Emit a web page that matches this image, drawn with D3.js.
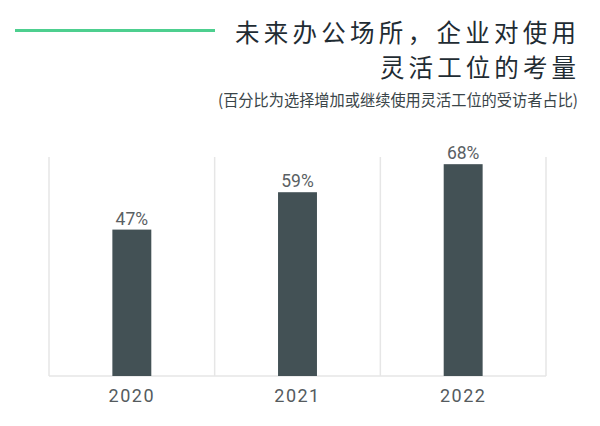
<!DOCTYPE html>
<html><head><meta charset="utf-8">
<script src="https://cdn.jsdelivr.net/npm/d3@7"></script>
<style>
html,body{margin:0;padding:0;background:#fff;}
svg{display:block;}
</style></head>
<body>
<svg id="chart" width="600" height="426"></svg>
<script>
const titleLines = ["未来办公场所，企业对使用", "灵活工位的考量"];
const subtitle = "(百分比为选择增加或继续使用灵活工位的受访者占比)";
const years = ["2020", "2021", "2022"];
const values = [47, 59, 68];
const valueLabels = ["47%", "59%", "68%"];

const svg = d3.select("#chart");
const W = 600, H = 426;
const margin = {left: 49, right: 54, top: 157, bottom: 50};
const x0 = margin.left, x1 = W - margin.right;
const yBase = H - margin.bottom;

// header
svg.append("line").attr("x1", 15).attr("x2", 215).attr("y1", 30.5).attr("y2", 30.5)
  .attr("stroke", "#4dcf8f").attr("stroke-width", 3);

const cjk = "'Noto Sans CJK SC','Noto Sans',sans-serif";
const titleY = [41.5, 77], titleLen = [341, 196];
titleLines.forEach((t, i) => {
  svg.append("text").attr("text-anchor", "end")
    .attr("font-family", cjk).attr("font-size", 24.5).attr("fill", "#1f2c33")
    .attr("font-weight", 400)
    .attr("x", 576).attr("y", titleY[i])
    .attr("textLength", titleLen[i]).attr("lengthAdjust", "spacing")
    .text(t);
});
svg.append("text").attr("x", 578).attr("y", 106).attr("text-anchor", "end")
  .attr("font-family", cjk).attr("font-size", 16).attr("fill", "#3a4549")
  .attr("textLength", 360).attr("lengthAdjust", "spacingAndGlyphs")
  .text(subtitle);

// scales
const x = d3.scaleBand().domain(years).range([x0, x1]).paddingInner(0.765).paddingOuter(0.3825);
const xGrid = d3.scaleBand().domain(years).range([x0, x1]).padding(0);
const y = d3.scaleLinear().domain([0, 100]).range([yBase, yBase - 311.5]);

// grid
const grid = svg.append("g").attr("stroke", "#e6e6e6").attr("stroke-width", 1.5);
const bounds = years.map(d => xGrid(d)).concat([x1]);
grid.selectAll("line.v").data(bounds).join("line")
  .attr("x1", d => d).attr("x2", d => d)
  .attr("y1", margin.top).attr("y2", yBase);
grid.append("line").attr("x1", x0).attr("x2", x1).attr("y1", yBase).attr("y2", yBase);

// bars
svg.append("g").selectAll("rect").data(values).join("rect")
  .attr("x", (d, i) => x(years[i]))
  .attr("width", x.bandwidth())
  .attr("y", d => y(d))
  .attr("height", d => y(0) - y(d))
  .attr("fill", "#435155");

// value labels
svg.append("g").selectAll("text").data(values).join("text")
  .attr("x", (d, i) => x(years[i]) + x.bandwidth() / 2)
  .attr("y", d => y(d) - 5)
  .attr("text-anchor", "middle")
  .attr("font-family", "Roboto, 'DejaVu Sans', sans-serif")
  .attr("font-size", 17.5).attr("fill", "#5a6063")
  .text((d, i) => valueLabels[i]);

// x axis
const xAxis = d3.axisBottom(x).tickSize(0).tickPadding(13);
const ax = svg.append("g").attr("transform", `translate(0,${yBase})`).call(xAxis);
ax.select(".domain").remove();
ax.selectAll("text")
  .attr("font-family", "Roboto, 'DejaVu Sans', sans-serif")
  .attr("font-size", 18).attr("fill", "#555b5e")
  .attr("letter-spacing", "1.5px");
</script>
</body></html>
